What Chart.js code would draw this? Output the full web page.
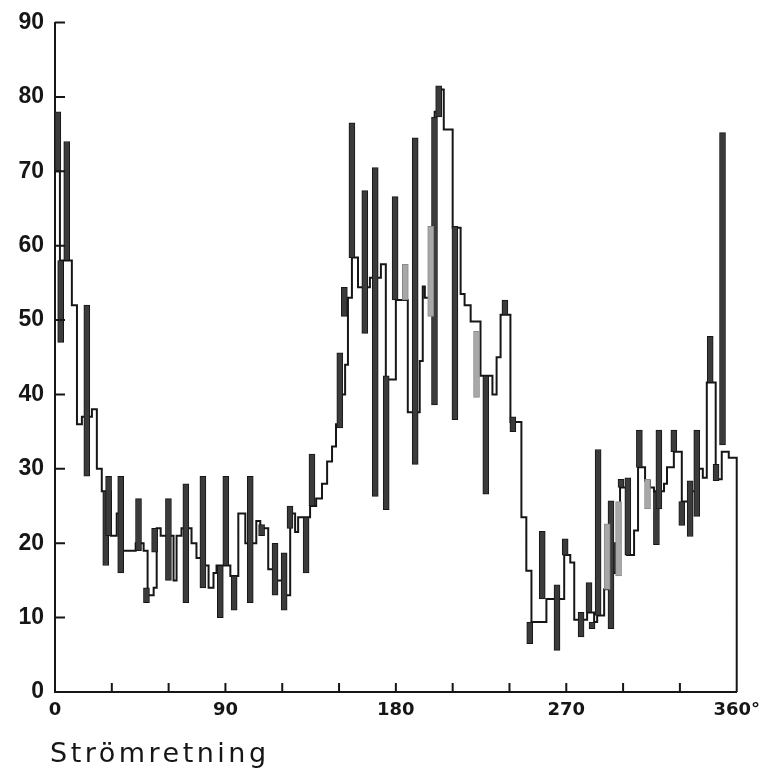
<!DOCTYPE html>
<html>
<head>
<meta charset="utf-8">
<title>Strömretning</title>
<script src="https://cdn.jsdelivr.net/npm/chart.js@4.4.1/dist/chart.umd.min.js"></script>
<style>
  html, body { margin: 0; padding: 0; background: #fff; }
  #wrap { width: 769px; height: 776px; position: relative; }
</style>
</head>
<body>
<div id="wrap"><canvas id="chart"></canvas></div>
<script>
// step line: direction (degrees) where a level starts, and its value
const stepDeg = [0, 2.6, 8.9, 11.6, 14.2, 19.5, 22.1, 24.7, 29.5, 32.6, 34.7, 42.6, 46.8, 48.9, 52.1, 53.7, 55.8,
  62.6, 64.2, 66.8, 72.1, 74.7, 77.4, 81.1, 83.7, 85.3, 92.6, 96.8, 100.5, 106.3, 108.4, 112.6, 115.8, 120,
  124.2, 126.8, 128.4, 134.7, 137.9, 141, 143.7, 146.3, 148.4, 150.5, 153.2, 154.7, 156.8, 160, 166.3, 172.1,
  174.7, 180, 186.3, 192.6, 194.2, 195.3, 200.5, 202.6, 205.3, 210, 214.2, 216.3, 219.5, 224.7, 231,
  233.2, 235.3, 240.5, 246.3, 248.9, 251.6, 259.5, 268.9, 272.1, 274.2, 281, 284.7, 286.3, 290, 293.2, 295.8,
  298.4, 302.1, 305.8, 307.9, 311.6, 314.2, 316.3, 321.6, 323.2, 326.8, 331, 334.7, 338.9, 342.1, 344.2,
  348.9, 352.1, 355.8, 360];
const stepVal = [70, 58, 52, 36, 37, 38, 30, 27, 21, 24, 19, 20, 19, 13, 14, 22, 21,
  15, 21, 22, 20, 18, 17, 14, 16, 17, 15.6, 24, 20, 23, 22, 16.5, 15, 13,
  24, 21.5, 23.5, 25, 26, 28, 31, 33, 36, 40, 44, 53, 58.4, 54.4, 55.7, 57.5,
  42, 52.7, 37.6, 44.5, 54.5, 53, 78, 81, 75.6, 62.4, 53.5, 52, 49.8, 42.5, 40,
  45, 50.7, 36.3, 23.5, 16.3, 9.4, 12.5, 18.4, 17.4, 9.7, 10.7, 9.4, 10.3, 13.8, 16, 20,
  27.5, 18.4, 21.7, 30.2, 28.4, 27.5, 27, 28, 30.2, 32.3, 25.6, 27, 30, 28.8, 41.6,
  28.6, 32.3, 31.5, 0];

// dark range bars
const barDeg = [1.5, 3, 6.2, 16.8, 26.8, 28.3, 34.7, 44.1, 48.3, 52.6, 59.9, 69.1, 78.1, 87.3, 90.2, 94.6,
  103.1, 109.1, 116.2, 121, 124.1, 132.6, 135.7, 150.4, 152.8, 156.8, 163.6, 169.1, 174.9, 179.6, 190.2,
  200.4, 202.6, 211.2, 227.5, 237.6, 241.8, 250.7, 257.3, 265.1, 269.4, 277.8, 282, 283.6, 286.8, 293.6,
  298.9, 302.5, 308.6, 317.6, 318.9, 326.8, 331, 335.4, 338.9, 346, 349.1, 352.5];
const barLow = [70, 47, 58, 29, 17, 21, 16, 19, 12, 18.8, 15, 12, 14, 10, 17, 11,
  12, 21, 13, 11, 22, 16, 25, 35.5, 50.5, 58.4, 48.2, 26.3, 24.5, 52.7, 30.6,
  38.6, 77.3, 36.6, 26.6, 50.7, 35, 6.5, 12.5, 5.6, 18.4, 7.4, 10.7, 8.5, 10.3, 8.5,
  27.5, 18.4, 30.2, 19.8, 24.6, 32.3, 22.4, 20.9, 23.6, 41.6, 28.4, 33.2];
const barHigh = [78, 58, 74, 52, 27, 29, 29, 26, 14, 22, 26, 28, 29, 17, 29, 15.6,
  29, 22.5, 20, 18.7, 25, 23.5, 32, 45.6, 54.4, 76.5, 67.4, 70.5, 42.5, 66.6, 74.5,
  77.3, 81.5, 62.6, 42.5, 52.7, 37, 9.4, 21.6, 14.4, 20.6, 10.7, 14.7, 9.4, 32.6, 25.7,
  28.6, 28.8, 35.2, 26.9, 35.2, 35.2, 25.6, 28.4, 35.2, 47.8, 30.6, 75.2];

// pale (dotted) range bars
const paleDeg = [185, 198.4, 222.6, 291.6, 297.6, 312.9];
const paleLow = [52.7, 50.5, 39.6, 13.8, 15.6, 24.6];
const paleHigh = [57.5, 62.6, 48.5, 22.6, 25.6, 28.6];

const xTickValues = [0, 90, 180, 270, 360];
const xTickLabels = ['0', '90', '180', '270', '360°'];
const xTitle = 'Strömretning';

const ink = '#161616';

const inwardTicks = {
  id: 'inwardTicks',
  afterDraw(chart) {
    const { ctx, scales: { x, y } } = chart;
    ctx.save();
    ctx.strokeStyle = ink;
    ctx.lineWidth = 2;
    ctx.beginPath();
    y.ticks.forEach(t => {
      if (t.value === 0) return;
      const py = y.getPixelForValue(t.value);
      ctx.moveTo(x.left, py);
      ctx.lineTo(x.left + 10, py);
    });
    x.ticks.forEach(t => {
      if (t.value === 0 || t.value === 360) return;
      const px = x.getPixelForValue(t.value);
      ctx.moveTo(px, y.bottom);
      ctx.lineTo(px, y.bottom - 9);
    });
    ctx.stroke();

    // axis title, letter-spaced like the original lettering
    ctx.fillStyle = ink;
    ctx.font = '27px "DejaVu Sans"';
    ctx.letterSpacing = '3.5px';
    ctx.textAlign = 'left';
    ctx.textBaseline = 'alphabetic';
    ctx.fillText(xTitle, x.left - 5, chart.height - 14);
    ctx.restore();
  }
};

new Chart(document.getElementById('chart'), {
  type: 'line',
  data: {
    datasets: [
      {
        type: 'bar',
        data: barDeg.map((d, i) => ({ x: d, y: [barLow[i], barHigh[i]] })),
        backgroundColor: '#3b3b3b',
        borderColor: ink,
        borderWidth: 1,
        borderSkipped: false,
        barThickness: 6,
        grouped: false,
        order: 1
      },
      {
        type: 'bar',
        data: paleDeg.map((d, i) => ({ x: d, y: [paleLow[i], paleHigh[i]] })),
        backgroundColor: '#a8a8a8',
        borderColor: '#8a8a8a',
        borderWidth: 1,
        borderSkipped: false,
        barThickness: 6,
        grouped: false,
        order: 0
      },
      {
        data: stepDeg.map((d, i) => ({ x: d, y: stepVal[i] })),
        stepped: true,
        borderColor: ink,
        borderWidth: 2,
        pointRadius: 0,
        fill: false,
        clip: 4,
        order: 2
      }
    ]
  },
  options: {
    responsive: true,
    maintainAspectRatio: false,
    animation: false,
    devicePixelRatio: 1,
    layout: { padding: { top: 11, right: 31, left: 0, bottom: 0 } },
    plugins: { legend: { display: false }, tooltip: { enabled: false } },
    scales: {
      x: {
        type: 'linear',
        min: 0,
        max: 360,
        offset: false,
        grid: { display: false, drawTicks: false },
        border: { display: true, color: ink, width: 2 },
        afterFit(scale) { scale.height = 84; },
        ticks: {
          stepSize: 30,
          autoSkip: false,
          maxRotation: 0,
          padding: 9,
          color: ink,
          font: { family: 'DejaVu Sans', size: 18, weight: 'bold', lineHeight: 1 },
          callback(value) {
            const i = xTickValues.indexOf(value);
            return i >= 0 ? xTickLabels[i] : '';
          }
        }
      },
      y: {
        min: 0,
        max: 90,
        grid: { display: false, drawTicks: false },
        border: { display: true, color: ink, width: 2 },
        afterFit(scale) { scale.width = 55; },
        ticks: {
          stepSize: 10,
          padding: 11,
          color: ink,
          font: { family: 'Liberation Sans', size: 23, weight: 'bold', lineHeight: 1 }
        }
      }
    }
  },
  plugins: [inwardTicks]
});
</script>
</body>
</html>
